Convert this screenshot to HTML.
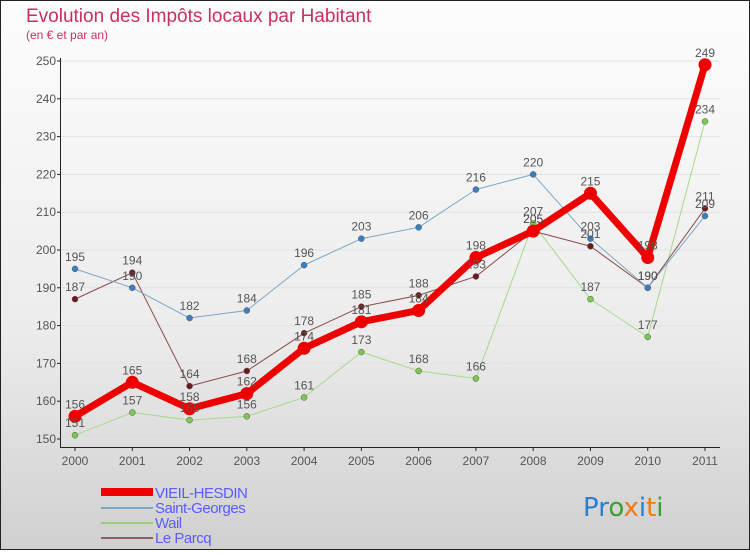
<!DOCTYPE html>
<html><head><meta charset="utf-8"><style>
html,body{margin:0;padding:0}
body{width:750px;height:550px;overflow:hidden;font-family:"Liberation Sans",sans-serif}
</style></head><body>
<svg id="c" width="750" height="550" xmlns="http://www.w3.org/2000/svg">
<defs><linearGradient id="bg" x1="0" y1="0" x2="0" y2="1"><stop offset="0" stop-color="#fdfdfd"/><stop offset="0.6" stop-color="#ececec"/><stop offset="1" stop-color="#d0d0d0"/></linearGradient></defs>
<rect x="0.5" y="0.5" width="749" height="549" fill="url(#bg)" stroke="#222"/>
<text x="26" y="22" font-size="19" fill="#c8305f">Evolution des Impôts locaux par Habitant</text>
<text x="26" y="39" font-size="12" fill="#c8305f">(en € et par an)</text>
<g id="grid"></g><g id="axes"></g><g id="series"></g><g id="labels"></g>
<g>
<rect x="101" y="488" width="52" height="8" fill="#ee0000"/>
<line x1="101" y1="508" x2="153" y2="508" stroke="#7aa7c7" stroke-width="2"/>
<line x1="101" y1="523" x2="153" y2="523" stroke="#99d077" stroke-width="2"/>
<line x1="101" y1="538" x2="153" y2="538" stroke="#8a6060" stroke-width="2"/>
<text x="155" y="498" font-size="15" fill="#5b5bff" letter-spacing="-0.5">VIEIL-HESDIN</text>
<text x="155" y="513" font-size="15" fill="#5b5bff" letter-spacing="-0.5">Saint-Georges</text>
<text x="155" y="528" font-size="15" fill="#5b5bff" letter-spacing="-0.5">Wail</text>
<text x="155" y="543" font-size="15" fill="#5b5bff" letter-spacing="-0.5">Le Parcq</text>
</g>
<g font-size="26" font-family="'DejaVu Sans',sans-serif">
<text x="583" y="516"><tspan fill="#2a7fd0">Pr</tspan><tspan fill="#3aa030">o</tspan><tspan fill="#f07a10">x</tspan><tspan fill="#2a7fd0">i</tspan><tspan fill="#f07a10">t</tspan><tspan fill="#3aa030">i</tspan></text>
</g>
</svg>
<script>
const years=[2000,2001,2002,2003,2004,2005,2006,2007,2008,2009,2010,2011];
const vieil=[156,165,158,162,174,181,184,198,205,215,198,249];
const stGeorges=[195,190,182,184,196,203,206,216,220,203,190,209];
const wail=[151,157,155,156,161,173,168,166,207,187,177,234];
const leParcq=[187,194,164,168,178,185,188,193,205,201,190,211];
const yTicks=[150,160,170,180,190,200,210,220,230,240,250];
const NS="http://www.w3.org/2000/svg";
const x=i=>75+i*(705-75)/(years.length-1);
const y=v=>439-(v-150)*(439-61)/100;
function mk(t,a,p){const e=document.createElementNS(NS,t);for(const k in a)e.setAttribute(k,a[k]);p.appendChild(e);return e;}
const grid=document.getElementById('grid'),axes=document.getElementById('axes'),ser=document.getElementById('series'),lab=document.getElementById('labels');
yTicks.forEach(v=>{
 const g=mk('line',{x1:60,x2:720,y1:y(v),y2:y(v),stroke:'#e2e2e2'},grid);
 
 
 const t=mk('text',{x:56,y:y(v)+4,'font-size':12,fill:'#555','text-anchor':'end'},axes);t.textContent=v;
 
 
 mk('line',{x1:57,x2:61,y1:y(v),y2:y(v),stroke:'#222'},axes);
});
mk('line',{x1:60.5,x2:60.5,y1:58,y2:448,stroke:'#222'},axes);
mk('line',{x1:60,x2:720,y1:447.5,y2:447.5,stroke:'#222'},axes);
years.forEach((yr,i)=>{
 mk('line',{x1:x(i),x2:x(i),y1:447,y2:451,stroke:'#222'},axes);
 const t=mk('text',{x:x(i),y:465,'font-size':12,fill:'#555','text-anchor':'middle'},axes);t.textContent=yr;
 
 
});
function series(name,data,color,dot,w,r){
 const g=mk('g',{},ser);
 
 
 mk('polyline',{points:data.map((v,i)=>x(i)+','+y(v)).join(' '),fill:'none',stroke:color,'stroke-width':w,'stroke-linejoin':'round'},g);
 data.forEach((v,i)=>{
  const c=mk('circle',{cx:x(i),cy:y(v),r:r,fill:dot,stroke:r>4?'none':'#555','stroke-width':0.5},g);
  
  
  const t=mk('text',{x:x(i),y:y(v)-8,'font-size':12,fill:'#555','text-anchor':'middle'},lab);t.textContent=v;
  
  
 });
}
series('wail',wail,'#a8d98a','#7cc850',1,3);
series('le-parcq',leParcq,'#8a4a4a','#6a1a1a',1,3);
series('saint-georges',stGeorges,'#7aa7c7','#3a80c0',1,3);
series('vieil-hesdin',vieil,'#ee0000','#ee0000',7,6.5);
</script>
</body></html>
